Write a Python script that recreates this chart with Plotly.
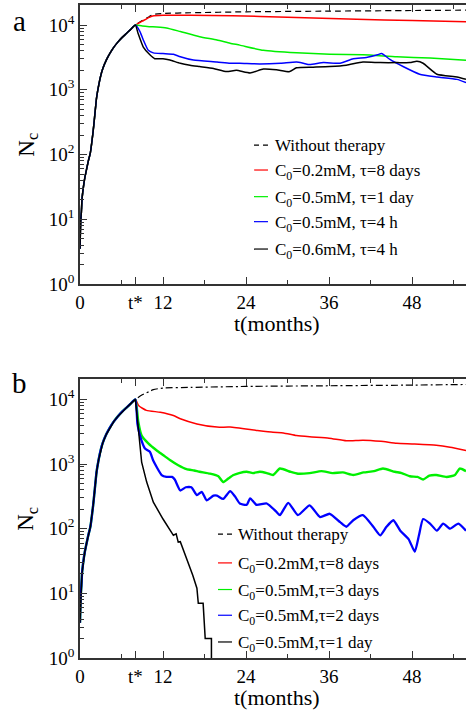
import plotly.graph_objects as go

FONT = "Liberation Serif, Times New Roman, serif"

# ---------------- data ----------------
T_GROWTH = [0, 0.1, 0.2, 0.3, 0.5, 0.7, 1.0, 1.2, 1.5, 1.9, 2.1, 2.4, 2.7, 3.0, 3.3,
            3.8, 4.3, 4.9, 5.5, 6.1, 6.7, 7.3, 8.0]
N_GROWTH = [3.5, 9, 13, 21, 32, 44, 63, 79, 107, 229, 370, 760, 1175, 1660, 2140,
            2880, 3630, 4570, 5500, 6460, 7410, 8510, 10000]

# panel a
A_NT_T = [8, 9, 10, 10.6, 12, 16, 24, 36, 48, 55.8]
A_NT_N = [10000, 11750, 13490, 14620, 15140, 15490, 16030, 16410, 16790, 16980]

A_RED_T = [8, 9, 10, 10.5, 12, 16, 22, 30, 40, 48, 55.8]
A_RED_N = [10000, 11480, 13180, 13800, 14130, 14130, 13960, 13180, 12300, 11750, 11220]

A_GRN_T = [8, 8.2, 9, 10, 11.1, 12.5, 14.5, 17.3, 19.8, 21.7, 23.1, 26.5, 31.3, 36.1,
           40.9, 45.8, 50.6, 55.8]
A_GRN_N = [10000, 10000, 9660, 9440, 9330, 9020, 7940, 6610, 5890, 5250, 4900, 4070,
           3720, 3550, 3470, 3240, 3090, 2850]

A_BLU_T = [8, 8.67, 9.15, 9.87, 10.6, 12.0, 13.5, 14.5, 16.4, 19.8, 21.7, 23.1, 26, 29,
           31.3, 32.3, 33.2, 35.2, 37.6, 39.5, 41.4, 43.0, 43.6, 44.8, 46.7, 49.1, 51.6,
           54.5, 55.8]
A_BLU_N = [10000, 7940, 5890, 4070, 3720, 3630, 3550, 3240, 2880, 2690, 2570, 2570, 2510,
           2570, 2690, 2570, 2450, 2630, 2570, 3020, 3160, 3470, 3630, 2950, 2290, 1740,
           1580, 1450, 1290]

A_BLK_T = [8, 8.4, 9.15, 10.1, 10.8, 12.0, 13.0, 14.5, 15.9, 17.3, 19.3, 21.2, 22.6, 24.6,
           26.5, 28.4, 30.3, 31.3, 33.7, 36.1, 38.5, 40.9, 43.4, 45.8, 47.7, 48.7, 49.6,
           51.6, 54.5, 55.8]
A_BLK_N = [10000, 7410, 4570, 3470, 3020, 3020, 2880, 2570, 2400, 2290, 2140, 1910, 2000,
           1820, 2090, 2040, 1910, 2190, 2240, 2290, 2400, 2690, 2630, 2630, 2630, 2750,
           2570, 1740, 1580, 1450]

# panel b
B_NT_T = [8, 9, 10, 10.6, 12, 16, 24, 36, 48, 55.8]
B_NT_N = [10000, 11750, 13180, 14130, 14960, 15310, 15850, 16220, 16600, 16980]

B_RED_T = [8, 8.5, 9.6, 11.6, 13.5, 14.5, 16.9, 19.8, 21.7, 25.5, 27.9, 29.4, 31.3, 33.2,
           36, 38.5, 40.9, 43.5, 45.8, 48, 51.5, 53.5, 55.8]
B_RED_N = [10000, 7940, 6760, 6310, 5620, 5010, 4170, 3720, 3720, 3310, 3090, 3020, 2750,
           2630, 2510, 2290, 2340, 2240, 2090, 2040, 1950, 1820, 1620]

B_GRN_T = [8, 8.43, 8.91, 9.87, 11.1, 12.0, 13.0, 14.2, 15.4, 16.5, 17.3, 18.8, 20.0, 20.7,
           21.5, 22.2, 23.0, 24.1, 25.0, 26.0, 27.0, 27.9, 28.9, 30.4, 31.5, 33.2, 34.9,
           36.5, 38.0, 39.5, 41.0, 42.5, 43.8, 45.5, 46.5, 47.7, 48.8, 49.6, 50.5, 51.5,
           53.0, 54.2, 54.9, 55.8]
B_GRN_N = [10000, 4470, 2750, 2090, 1620, 1380, 1150, 955, 832, 794, 759, 708, 646, 525,
           603, 676, 724, 759, 724, 759, 724, 676, 851, 759, 708, 724, 776, 724, 741, 676,
           741, 776, 851, 759, 724, 646, 631, 575, 661, 676, 631, 676, 851, 776]

B_BLU_T = [8, 8.3, 8.67, 9.39, 10.1, 10.6, 11.8, 12.5, 13.3, 13.7, 14.5, 15.3, 16.1, 16.9,
           17.6, 18.3, 19.3, 19.8, 20.7, 21.7, 22.4, 23.1, 24.1, 24.6, 25.5, 27.0, 28.4,
           28.9, 30.1, 31.5, 33.2, 34.7, 36.1, 37.6, 38.5, 39.5, 40.9, 42.4, 43.4, 44.3,
           45.3, 46.3, 47.5, 48.4, 49.0, 49.6, 50.6, 51.6, 52.5, 53.5, 54.7, 55.8]
B_BLU_N = [10000, 4170, 2750, 1740, 1550, 1120, 676, 631, 631, 575, 389, 437, 437, 331,
           372, 275, 324, 324, 288, 380, 316, 245, 234, 295, 234, 245, 182, 162, 251, 162,
           229, 151, 170, 126, 107, 135, 162, 107, 79, 107, 135, 93, 69, 44, 79, 141, 120,
           93, 120, 100, 120, 93]

B_BLK_T = [8, 8.43, 8.91, 9.64, 10.6, 12.0, 13.0, 13.5, 13.9, 14.2, 14.5, 14.9, 15.2, 15.7,
           16.3, 16.9, 17.1, 17.8, 18.1, 19.0, 19.0]
B_BLK_N = [10000, 3550, 1070, 525, 257, 141, 95, 79, 83, 62, 63, 48, 40, 30, 19, 12, 7, 7,
           2, 2, 1]

X_TICKVALS = [0, 8, 12, 24, 36, 48]
X_TICKTEXT = ["0", "t*", "12", "24", "36", "48"]
Y_TICKVALS = [1, 10, 100, 1000, 10000]
Y_TICKTEXT = ["10<sup>0</sup>", "10<sup>1</sup>", "10<sup>2</sup>", "10<sup>3</sup>",
              "10<sup>4</sup>"]

LEG_A = ["Without therapy", "C<sub>0</sub>=0.2mM, τ=8 days", "C<sub>0</sub>=0.5mM, τ=1 day",
         "C<sub>0</sub>=0.5mM, τ=4 h", "C<sub>0</sub>=0.6mM, τ=4 h"]
LEG_B = ["Without therapy", "C<sub>0</sub>=0.2mM,τ=8 days", "C<sub>0</sub>=0.5mM,τ=3 days",
         "C<sub>0</sub>=0.5mM,τ=2 days", "C<sub>0</sub>=0.5mM,τ=1 day"]

RED, GREEN, BLUE, BLACK = "#ff0000", "#00f000", "#0000ff", "#000000"

# ---------------- figure ----------------
fig = go.Figure()


def add(xs, ys, color, width, dash, xa, ya, shape="spline"):
    fig.add_trace(go.Scatter(x=T_GROWTH + xs[1:], y=N_GROWTH + ys[1:], mode="lines",
                             line=dict(color=color, width=width, dash=dash, shape=shape,
                                       smoothing=0.5 if shape == "spline" else None),
                             xaxis=xa, yaxis=ya, showlegend=False, hoverinfo="skip"))


# panel a
add(A_NT_T, A_NT_N, BLACK, 1.2, "6px,4px", "x", "y")
add(A_RED_T, A_RED_N, RED, 1.5, "solid", "x", "y")
add(A_GRN_T, A_GRN_N, GREEN, 1.5, "solid", "x", "y")
add(A_BLU_T, A_BLU_N, BLUE, 1.5, "solid", "x", "y")
add(A_BLK_T, A_BLK_N, BLACK, 1.5, "solid", "x", "y")

# panel b
add(B_NT_T, B_NT_N, BLACK, 1.2, "7px,3px,2px,3px", "x2", "y2")
add(B_RED_T, B_RED_N, RED, 1.5, "solid", "x2", "y2")
add(B_GRN_T, B_GRN_N, GREEN, 2.4, "solid", "x2", "y2")
add(B_BLU_T, B_BLU_N, BLUE, 2.3, "solid", "x2", "y2")
add(B_BLK_T, B_BLK_N, BLACK, 1.5, "solid", "x2", "y2", shape="linear")

AX = "#333333"


def xaxis(domain_anchor):
    return dict(range=[0, 55.8], tickmode="array", tickvals=X_TICKVALS, ticktext=X_TICKTEXT,
                ticks="inside", ticklen=7, tickwidth=1.2, tickcolor=AX,
                showline=True, linecolor=AX, linewidth=1.5, mirror="allticks",
                showgrid=False, zeroline=False, anchor=domain_anchor,
                tickfont=dict(family=FONT, size=19, color="black"),
                minor=dict(tickmode="array", tickvals=[6, 18, 30, 42, 54], ticks="inside",
                           ticklen=4, tickwidth=1.2, tickcolor=AX))


MINOR_Y = [m * 10 ** k for k in range(0, 5) for m in range(2, 10)]


def yaxis(domain, anchor):
    return dict(type="log", range=[0, 4.31], domain=domain, anchor=anchor,
                tickmode="array", tickvals=Y_TICKVALS, ticktext=Y_TICKTEXT,
                ticks="inside", ticklen=7, tickwidth=1.2, tickcolor=AX,
                showline=True, linecolor=AX, linewidth=1.5, mirror=False,
                showgrid=False, zeroline=False,
                tickfont=dict(family=FONT, size=19, color="black"),
                minor=dict(tickmode="array", tickvals=MINOR_Y, ticks="inside",
                           ticklen=4, tickwidth=1.0, tickcolor=AX))


fig.update_layout(
    width=466, height=711,
    margin=dict(l=80, r=0, t=5, b=53),
    paper_bgcolor="white", plot_bgcolor="white",
    font=dict(family=FONT, color="black"),
    xaxis=xaxis("y"), yaxis=yaxis([0.5727, 1.0], "x"),
    xaxis2=xaxis("y2"), yaxis2=yaxis([0.0, 0.4268], "x2"),
    showlegend=False,
)

annotations = []
shapes = []


def legend(xr, yr, x0, x1, xt, rows, labels, dashes, colors):
    for lab, yy, dsh, col in zip(labels, rows, dashes, colors):
        shapes.append(dict(type="line", xref=xr, yref=yr, x0=x0, x1=x1, y0=yy, y1=yy,
                           line=dict(color=col, width=1.2, dash=dsh)))
        annotations.append(dict(xref=xr, yref=yr, x=xt, y=yy, xanchor="left",
                                yanchor="middle", text=lab, showarrow=False,
                                yshift=(-2 if "sub" in lab else 0),
                                font=dict(family=FONT, size=17, color="black")))


COLS = [BLACK, RED, GREEN, BLUE, BLACK]
legend("x domain", "y domain", 0.4508, 0.487, 0.4992,
       [0.498, 0.4086, 0.3131, 0.2235, 0.1254], LEG_A,
       ["5px,4px", "solid", "solid", "solid", "solid"], COLS)
legend("x2 domain", "y2 domain", 0.3575, 0.3938, 0.404,
       [0.4443, 0.3412, 0.2457, 0.1534, 0.0575], LEG_B,
       ["5px,4px", "solid", "solid", "solid", "solid"], COLS)

for xr, yr, letter, ly, ty in [("x domain", "y domain", "a", 0.943, -0.140),
                               ("x2 domain", "y2 domain", "b", 0.986, -0.143)]:
    annotations.append(dict(xref=xr, yref=yr, x=-0.158, y=ly, text=letter, showarrow=False,
                            xanchor="center", yanchor="middle",
                            font=dict(family=FONT, size=29, color="black")))
    annotations.append(dict(xref=xr, yref=yr, x=-0.137, y=0.5, text="N<sub>c</sub>",
                            textangle=-90, showarrow=False, xanchor="center",
                            yanchor="middle",
                            font=dict(family=FONT, size=23, color="black")))
    annotations.append(dict(xref=xr, yref=yr, x=0.51, y=ty, text="t(months)",
                            showarrow=False, xanchor="center", yanchor="middle",
                            font=dict(family=FONT, size=22, color="black")))

fig.update_layout(annotations=annotations, shapes=shapes)

fig.write_html("out.html")
